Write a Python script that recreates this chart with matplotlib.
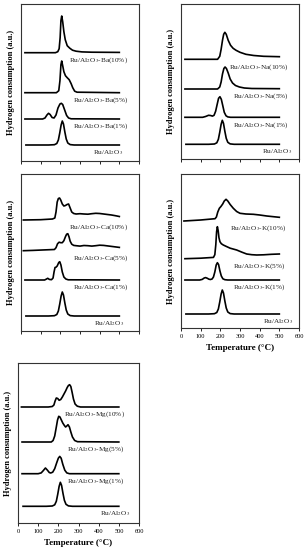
import matplotlib
matplotlib.use("Agg")
import matplotlib.pyplot as plt

# Ru/Al2O3 reference trace (same sample shown in every panel)
RU_T = [25, 140, 170, 182, 190, 197, 204, 210, 216, 223, 230, 238, 250, 270, 500]
RU_H = [0, 0, 0.3, 1.5, 5, 12, 20, 24, 21, 13, 6, 2, 0.4, 0, 0]

# Ba-promoted
BA1_T = [20, 110, 122, 132, 140, 148, 158, 168, 178, 188, 198, 205, 212, 222, 232, 242, 255, 500]
BA1_H = [0, 0, 1, 4, 5.7, 4.5, 1.5, 1, 4, 11, 15, 15.7, 14.5, 9, 3.5, 1, 0.2, 0]
BA5_T = [20, 180, 192, 198, 203, 207, 212, 218, 226, 235, 245, 255, 263, 273, 285, 500]
BA5_H = [0, 0, 2, 12, 28, 31.7, 27, 21, 17, 15, 13, 9, 5, 1.5, 0.5, 0]
BA10_T = [20, 175, 187, 194, 199, 203, 207, 212, 218, 225, 235, 248, 262, 280, 310, 360, 500]
BA10_H = [0, 0, 1, 4, 15, 32, 36.7, 31, 21, 13, 7, 4.5, 2.5, 1.5, 0.8, 0.5, 0.3]

# Na-promoted
NA1_T = [20, 110, 125, 140, 150, 160, 168, 176, 184, 191, 198, 205, 212, 220, 229, 238, 252, 500]
NA1_H = [0, 0, 0.8, 2, 1.8, 1.2, 2, 6, 13, 19, 20.6, 18, 12, 5, 1.5, 0.4, 0, 0]
NA5_T = [20, 186, 197, 204, 211, 218, 224, 231, 240, 250, 262, 277, 297, 322, 360, 500]
NA5_H = [0, 0, 2, 7, 15, 20.5, 22, 20.5, 16, 10, 6, 3.5, 2, 1, 0.5, 0.3]
NA10_T = [20, 186, 197, 204, 211, 217, 223, 230, 240, 252, 265, 280, 300, 330, 370, 420, 500]
NA10_H = [0, 0, 3, 10, 19, 25, 27, 25, 19, 14, 11, 9, 7, 5, 3.8, 3, 2.6]

# Ca-promoted
CA1_T = [20, 120, 128, 136, 144, 155, 163, 168, 173, 178, 184, 192, 197, 203, 210, 218, 228, 240, 500]
CA1_H = [0, 0, 0.8, 1.7, 0.6, 0.3, 2, 8, 12.5, 12.8, 14, 17.5, 18.3, 15, 8, 3, 1, 0.2, 0]
CA5_T = [12, 60, 120, 170, 178, 186, 194, 202, 210, 218, 226, 232, 238, 244, 250, 258, 268, 280,
         300, 320, 340, 360, 380, 400, 420, 440, 460, 480, 500]
CA5_H = [0, 0.3, 0.8, 1.2, 3, 7, 8.5, 8, 8, 10, 14, 16.5, 17, 14, 9.5, 6.5, 5.3, 5,
         4.6, 5.2, 5, 4.6, 5, 5.5, 5.3, 4.8, 4.3, 3.8, 3.3]
CA10_T = [12, 100, 160, 172, 178, 184, 190, 196, 202, 210, 218, 226, 234, 242, 250, 258, 268, 280,
          300, 320, 340, 360, 380, 400, 420, 440, 460, 480, 500]
CA10_H = [0, 0.3, 1, 2, 8, 18, 21.5, 22, 20, 16, 14, 14.5, 15.5, 16, 12, 8, 6.5, 6,
          6.3, 6, 5.8, 6.3, 6.7, 6.5, 6, 5.5, 5, 4.3, 3.5]

# K-promoted
K1_T = [20, 95, 108, 118, 125, 133, 142, 150, 158, 165, 172, 179, 185, 191, 198, 205, 213, 223, 238, 500]
K1_H = [0, 0, 0.6, 2, 2.4, 1.8, 0.8, 0.5, 1, 3, 8, 15, 17.3, 15.5, 9, 4, 1.2, 0.3, 0, 0]
K5_T = [20, 100, 165, 172, 177, 181, 185, 189, 193, 198, 205, 215, 230, 250, 283, 310, 334, 360, 385, 420, 460, 500]
K5_H = [0, 0.5, 1.3, 4, 14, 27, 32, 28, 21, 17, 15, 13.7, 12.3, 10.5, 8.7, 6.5, 4.7, 4, 3.7, 3.9, 4.4, 4.7]
K10_T = [15, 100, 173, 180, 187, 195, 203, 212, 220, 229, 238, 250, 266, 283, 300, 330, 368, 400, 436, 470, 500]
K10_H = [0, 1, 2.3, 4, 9, 12.7, 14.5, 17, 20, 21.7, 20, 16.5, 12.7, 9.5, 7.7, 7, 6.7, 6, 5, 4.3, 3.7]

# Mg-promoted
MG1_T = [20, 100, 115, 125, 136, 146, 155, 162, 172, 182, 192, 200, 207, 214, 222, 232, 242, 255, 500]
MG1_H = [0, 0, 0.8, 3, 5.7, 3.5, 1.2, 0.7, 1.5, 5, 11, 15.5, 17.3, 15.5, 9.5, 3.5, 0.8, 0, 0]
MG5_T = [20, 165, 174, 182, 190, 196, 202, 208, 215, 222, 230, 236, 242, 248, 255, 262, 270, 281, 295, 500]
MG5_H = [0, 0, 1.5, 6, 15, 22, 25.7, 25, 22, 19, 16.5, 15, 16, 17.3, 15, 10, 5, 1.5, 0.3, 0]
MG10_T = [17, 150, 170, 178, 184, 190, 197, 204, 212, 220, 228, 236, 244, 250, 256, 262, 268, 275, 283, 294, 310, 500]
MG10_H = [0, 0, 0.5, 2, 6, 9, 8.5, 6.7, 7.5, 10, 13, 16, 19.5, 21.5, 22.3, 20.5, 15, 8, 3, 0.8, 0, 0]

PROMOTERS = ["Ba", "Na", "Ca", "K", "Mg"]
LOADINGS = ["1%", "5%", "10%"]
TICKS = [0, 100, 200, 300, 400, 500, 600]

plt.rcParams["font.family"] = ["Liberation Serif", "DejaVu Serif"]
plt.rcParams["mathtext.fontset"] = "stix"

fig = plt.figure(figsize=(3.05, 5.5), dpi=100)

# panel boxes in pixels: left, top, right, bottom
boxes = [(21, 4, 139, 161), (181, 4, 299, 159), (21, 174, 139, 331),
         (181, 174, 299, 328), (18, 363, 139, 523)]
curves = [
    [(RU_T, RU_H), (BA1_T, BA1_H), (BA5_T, BA5_H), (BA10_T, BA10_H)],
    [(RU_T, RU_H), (NA1_T, NA1_H), (NA5_T, NA5_H), (NA10_T, NA10_H)],
    [(RU_T, RU_H), (CA1_T, CA1_H), (CA5_T, CA5_H), (CA10_T, CA10_H)],
    [(RU_T, RU_H), (K1_T, K1_H), (K5_T, K5_H), (K10_T, K10_H)],
    [(RU_T, RU_H), (MG1_T, MG1_H), (MG5_T, MG5_H), (MG10_T, MG10_H)],
]
# vertical offsets (px above panel bottom) of each trace's baseline
offsets = [(16, 42, 68.3, 108.3), (14.7, 41.7, 70, 99.7), (15, 51, 80.3, 111),
           (14, 48, 69.3, 107), (16.7, 49.3, 81, 116)]
# right edge of labels: (Ru, promoted)
label_x = [(520, 544), (565, 546), (524, 546), (568, 534), (555, 530)]
show_x = [False, False, False, True, True]

W, H = 305, 550
for i, (l, t, r, b) in enumerate(boxes):
    ax = fig.add_axes([l / W, (H - b) / H, (r - l) / W, (b - t) / H])
    for j, (tt, hh) in enumerate(curves[i]):
        off = offsets[i][j]
        ax.plot(tt, [v + off for v in hh], color="black", lw=1.2)
        if j == 0:
            txt = r"Ru/Al$_2$O$_3$"
            xr = label_x[i][0]
        else:
            txt = r"Ru/Al$_2$O$_3$-" + PROMOTERS[i] + "(" + LOADINGS[j - 1] + ")"
            xr = label_x[i][1]
        ax.text(xr, off - 7.5, txt, ha="right", va="center", fontsize=5.2, color="#222222")
    ax.set_xlim(0, 600)
    ax.set_ylim(0, b - t)
    ax.set_xticks(TICKS)
    ax.set_yticks([])
    ax.tick_params(axis="x", direction="out", length=2.5, width=0.6, pad=1.5, labelsize=4.6)
    if not show_x[i]:
        ax.set_xticklabels([])
    else:
        ax.set_xlabel("Temperature (°C)", fontsize=6.5, fontweight="bold", labelpad=4)
    ax.set_ylabel("Hydrogen consumption (a.u.)", fontsize=6, fontweight="bold", labelpad=4)
    for s in ax.spines.values():
        s.set_linewidth(0.8)
        s.set_color("#333333")

fig.savefig("out.png", dpi=100)
